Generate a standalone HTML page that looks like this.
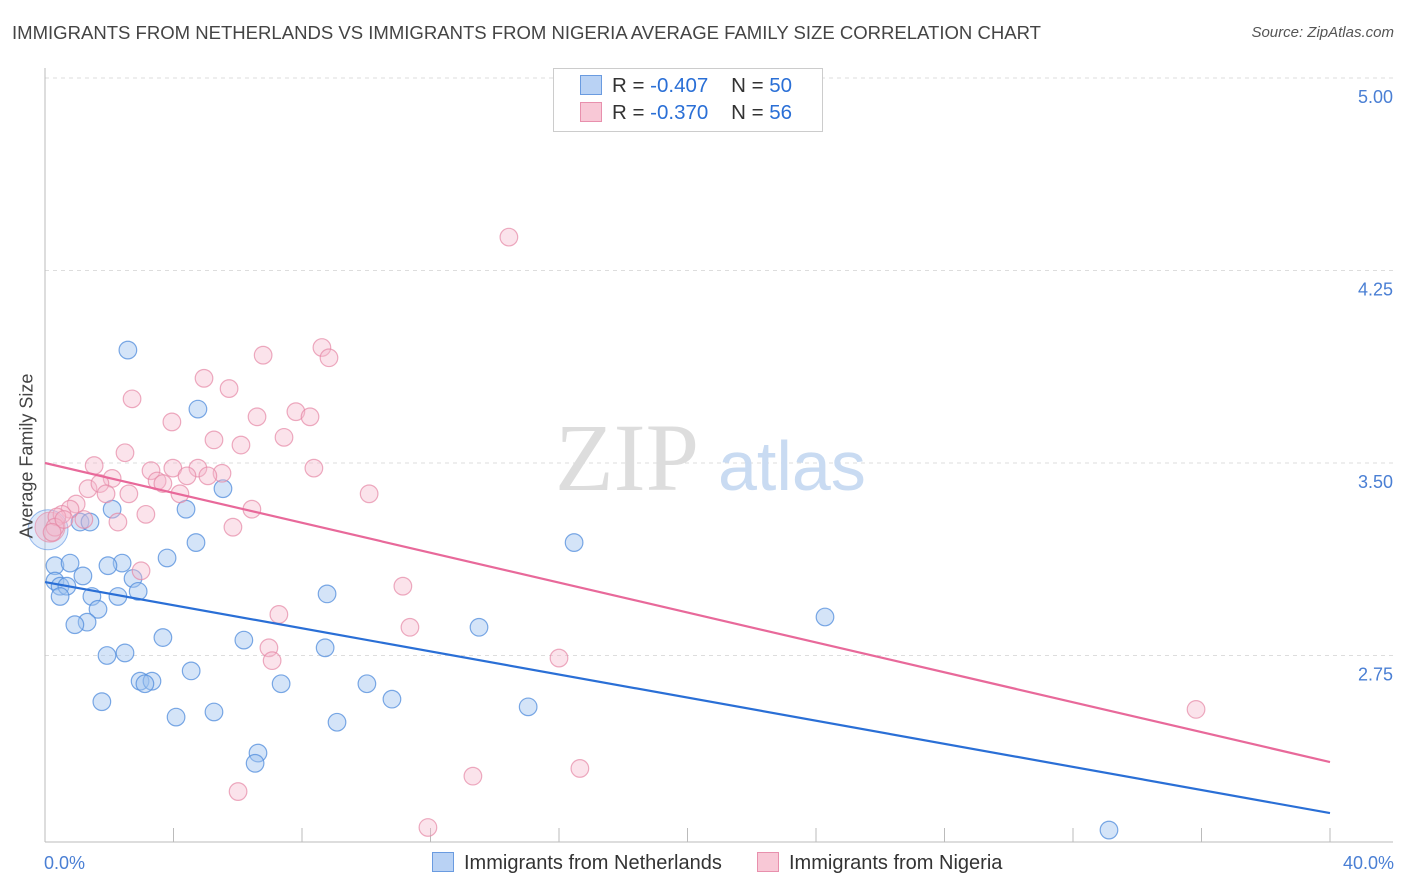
<!DOCTYPE html>
<html><head><meta charset="utf-8"><style>
body{margin:0;background:#fff;font-family:"Liberation Sans",sans-serif;}
#wrap{position:relative;width:1406px;height:892px;overflow:hidden;}
.t{position:absolute;white-space:nowrap;}
</style></head><body>
<div id="wrap">
<div class="t" style="left:12px;top:22px;font-size:18.55px;color:#444;">IMMIGRANTS FROM NETHERLANDS VS IMMIGRANTS FROM NIGERIA AVERAGE FAMILY SIZE CORRELATION CHART</div>
<div class="t" style="right:12px;top:24px;font-size:15px;color:#555;font-style:italic;">Source: ZipAtlas.com</div>
<svg id="svg" width="1406" height="892" style="position:absolute;left:0;top:0"></svg>
</div>
<script>
const blueX=[2.58,4.76,5.54,4.39,2.09,1.09,1.40,4.70,16.47,3.80,0.31,0.78,2.40,1.96,1.18,0.31,2.74,0.47,0.68,2.90,0.47,1.46,2.27,8.78,1.65,1.31,0.93,3.67,6.19,13.51,24.28,8.72,2.49,1.93,4.55,2.96,3.33,3.11,7.35,10.02,10.80,1.77,15.04,5.26,4.08,9.09,6.63,6.54,33.12];
const blueY=[3.94,3.71,3.40,3.32,3.32,3.27,3.27,3.19,3.19,3.13,3.10,3.11,3.11,3.10,3.06,3.04,3.05,3.02,3.02,3.00,2.98,2.98,2.98,2.99,2.93,2.88,2.87,2.82,2.81,2.86,2.90,2.78,2.76,2.75,2.69,2.65,2.65,2.64,2.64,2.64,2.58,2.57,2.55,2.53,2.51,2.49,2.37,2.33,2.07];
const pinkX=[14.44,8.62,6.79,8.84,4.95,5.73,2.71,3.95,6.60,7.81,8.25,5.26,6.10,7.44,2.49,1.53,3.30,3.98,4.76,8.37,5.51,2.09,3.49,4.42,3.67,5.07,1.34,1.71,2.61,1.90,4.20,10.09,0.97,0.78,0.53,0.37,3.14,6.44,2.27,5.85,0.31,0.22,2.99,11.14,7.28,11.36,6.97,7.07,16.00,35.83,13.32,16.65,6.01,11.92,0.59,1.21];
const pinkY=[4.38,3.95,3.92,3.91,3.83,3.79,3.75,3.66,3.68,3.70,3.68,3.59,3.57,3.60,3.54,3.49,3.47,3.48,3.48,3.48,3.46,3.44,3.43,3.45,3.42,3.45,3.40,3.42,3.38,3.38,3.38,3.38,3.34,3.32,3.30,3.29,3.30,3.32,3.27,3.25,3.25,3.23,3.08,3.02,2.91,2.86,2.78,2.73,2.74,2.54,2.28,2.31,2.22,2.08,3.28,3.28];
const blueTrend=[3.036,2.136];
const pinkTrend=[3.50,2.335];
const yTicks=[5.00,4.25,3.50,2.75];
const xTickVals=[0,4,8,12,16,20,24,28,32,36,40];
const NS='http://www.w3.org/2000/svg';
const svg=document.getElementById('svg');
const X=v=>45+(v/40)*1285;
const Y=v=>78+(5-v)*256.67;
function mk(tag,attrs,parent){const e=document.createElementNS(NS,tag);for(const k in attrs)e.setAttribute(k,attrs[k]);(parent||svg).appendChild(e);return e;}
yTicks.forEach(v=>{
 const g=mk('line',{x1:45,x2:1393,y1:Y(v),y2:Y(v),stroke:'#ddd','stroke-dasharray':'4,4'});
 
 
 const t=mk('text',{x:1393,y:Y(v)+25,'text-anchor':'end','font-size':18,fill:'#4a7fd4','font-family':'Liberation Sans'});
 t.textContent=v.toFixed(2);
 
 
});
const ax=mk('line',{x1:45,x2:45,y1:68,y2:842,stroke:'#bbb'});


const bx=mk('line',{x1:45,x2:1393,y1:842,y2:842,stroke:'#bbb'});


xTickVals.forEach(v=>{
 const l=mk('line',{x1:X(v),x2:X(v),y1:828,y2:842,stroke:'#bbb'});
 
 
});
const wm=mk('text',{x:555,y:490,'font-size':96,fill:'#ddd','font-family':'Liberation Serif'});
wm.textContent='ZIP';


const wm2=mk('text',{x:718,y:490,'font-size':70,fill:'#c9dbf2','font-family':'Liberation Sans'});
wm2.textContent='atlas';


const bigB=mk('circle',{cx:48,cy:Y(3.24),r:20,fill:'rgba(160,195,240,0.35)',stroke:'rgba(90,145,225,0.6)'});


const bigP=mk('circle',{cx:50,cy:Y(3.25),r:15,fill:'rgba(240,170,190,0.4)',stroke:'rgba(230,130,160,0.6)'});


blueX.forEach((x,i)=>{
 const c=mk('circle',{cx:X(x),cy:Y(blueY[i]),r:8.8,fill:'rgba(160,195,240,0.45)',stroke:'rgba(80,140,220,0.75)','stroke-width':1.2});
 
 
});
pinkX.forEach((x,i)=>{
 const c=mk('circle',{cx:X(x),cy:Y(pinkY[i]),r:8.8,fill:'rgba(245,185,205,0.4)',stroke:'rgba(230,135,165,0.7)','stroke-width':1.2});
 
 
});
const bl=mk('line',{x1:X(0),y1:Y(blueTrend[0]),x2:X(40),y2:Y(blueTrend[1]),stroke:'#2a6fd6','stroke-width':2.2});


const pl=mk('line',{x1:X(0),y1:Y(pinkTrend[0]),x2:X(40),y2:Y(pinkTrend[1]),stroke:'#e8699a','stroke-width':2.2});


</script>
<div class="t" style="left:27px;top:456px;font-size:18px;color:#444;transform:translate(-50%,-50%) rotate(-90deg);">Average Family Size</div>
<div class="t" style="left:44px;top:853px;font-size:18px;color:#4a7fd4;">0.0%</div>
<div class="t" style="right:12px;top:853px;font-size:18px;color:#4a7fd4;">40.0%</div>
<div style="position:absolute;left:553px;top:68px;width:268px;height:62px;border:1px solid #ccc;background:#fff;font-size:20.5px;color:#333;">
 <div style="position:absolute;left:26px;top:5px;white-space:nowrap;"><span style="display:inline-block;width:20px;height:18px;background:#b9d2f4;border:1px solid #6a9be0;vertical-align:-3px;margin-right:10px;"></span>R = <span style="color:#2a6fd6">-0.407</span>&nbsp;&nbsp;&nbsp; N = <span style="color:#2a6fd6">50</span></div>
 <div style="position:absolute;left:26px;top:32px;white-space:nowrap;"><span style="display:inline-block;width:20px;height:18px;background:#f8c8d6;border:1px solid #e890ad;vertical-align:-3px;margin-right:10px;"></span>R = <span style="color:#2a6fd6">-0.370</span>&nbsp;&nbsp;&nbsp; N = <span style="color:#2a6fd6">56</span></div>
</div>
<div class="t" style="left:432px;top:852px;font-size:20px;color:#333;"><span style="display:inline-block;width:20px;height:18px;background:#b9d2f4;border:1px solid #6a9be0;vertical-align:-3px;margin-right:10px;"></span>Immigrants from Netherlands</div>
<div class="t" style="left:757px;top:852px;font-size:20px;color:#333;"><span style="display:inline-block;width:20px;height:18px;background:#f8c8d6;border:1px solid #e890ad;vertical-align:-3px;margin-right:10px;"></span>Immigrants from Nigeria</div>
</body></html>
